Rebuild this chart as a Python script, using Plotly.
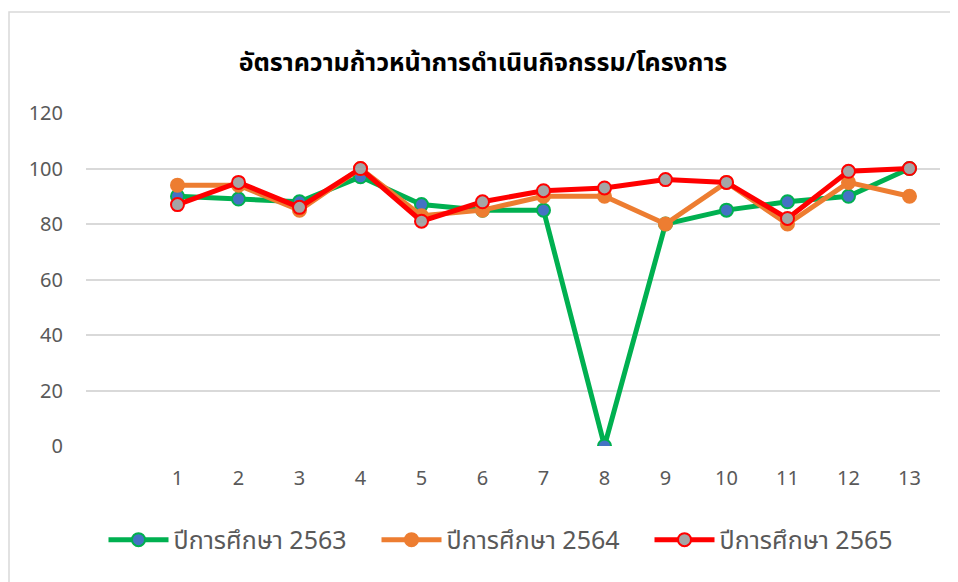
import plotly.graph_objects as go

categories = [1, 2, 3, 4, 5, 6, 7, 8, 9, 10, 11, 12, 13]
tick_labels = [str(c) for c in categories]
y2563 = [90, 89, 88, 97, 87, 85, 85, 0, 80, 85, 88, 90, 100]
y2564 = [94, 94, 85, 100, 83, 85, 90, 90, 80, 95, 80, 95, 90]
y2565 = [87, 95, 86, 100, 81, 88, 92, 93, 96, 95, 82, 99, 100]
names = ["ปีการศึกษา 2563", "ปีการศึกษา 2564", "ปีการศึกษา 2565"]
title = "อัตราความก้าวหน้าการดำเนินกิจกรรม/โครงการ"

FONT = "Noto Sans, Noto Sans Thai, Tahoma, sans-serif"

fig = go.Figure()
fig.add_trace(go.Scatter(x=categories, y=y2563, name=names[0], mode="lines+markers",
                         line=dict(color="#00B050", width=5),
                         marker=dict(size=13, color="#4472C4", line=dict(color="#00B050", width=2))))
fig.add_trace(go.Scatter(x=categories, y=y2564, name=names[1], mode="lines+markers",
                         line=dict(color="#ED7D31", width=5),
                         marker=dict(size=13, color="#ED7D31", line=dict(color="#ED7D31", width=2))))
fig.add_trace(go.Scatter(x=categories, y=y2565, name=names[2], mode="lines+markers",
                         line=dict(color="#FF0000", width=5),
                         marker=dict(size=13, color="#A5A5A5", line=dict(color="#FF0000", width=2))))

fig.update_layout(
    width=950, height=574,
    margin=dict(l=78, r=18, t=105, b=136),
    paper_bgcolor="white", plot_bgcolor="white",
    font=dict(family=FONT, color="#595959", size=20),
    title=dict(text="<b>" + title + "</b>", x=0.5, xanchor="center", y=0.905, yanchor="middle",
               font=dict(size=25, color="#000000", family=FONT)),
    showlegend=True,
    legend=dict(orientation="h", x=0.5, xanchor="center", y=-0.282, yanchor="middle",
                font=dict(size=25, color="#595959"), itemwidth=60,
                entrywidth=198, entrywidthmode="pixels"),
    xaxis=dict(range=[-0.5, 13.5], tickvals=categories, ticktext=tick_labels,
               showgrid=False, zeroline=False, showline=False, ticks="",
               ticklabelstandoff=18,
               tickfont=dict(size=20, color="#595959")),
    yaxis=dict(range=[0, 120], tickvals=[0, 20, 40, 60, 80, 100, 120],
               showgrid=True, gridcolor="#D9D9D9", gridwidth=1.5, zeroline=False,
               showline=False, ticks="", ticklabelstandoff=22,
               tickfont=dict(size=20, color="#595959")),
    shapes=[dict(type="rect", xref="paper", yref="paper",
                 x0=(9 - 86) / 854, x1=(962 - 86) / 854,
                 y0=(446 - 600) / 333, y1=(446 - 12) / 333,
                 line=dict(color="#D9D9D9", width=1.5), fillcolor="rgba(0,0,0,0)", layer="below")],
)

fig.write_html("out.html")
